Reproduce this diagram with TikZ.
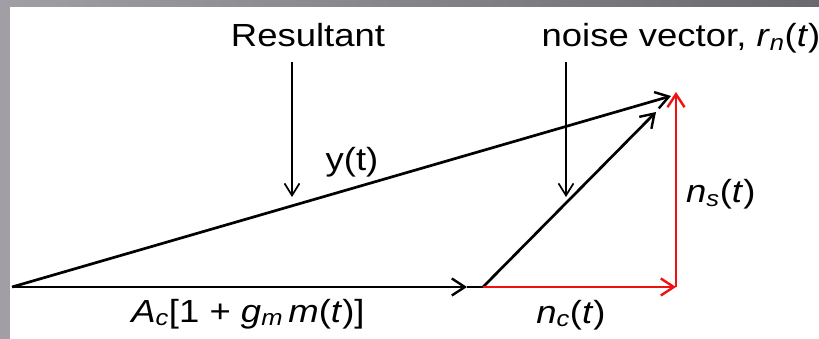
\documentclass[tikz,border=0pt]{standalone}
\usepackage{fontspec}
\setmainfont{Liberation Sans}[FakeStretch=1.14]
\usetikzlibrary{arrows.meta}
\definecolor{frameL}{HTML}{A19FA5}
\definecolor{frameR}{HTML}{6B696F}
\definecolor{vred}{HTML}{F01010}
\tikzset{
  vec/.style={line width=2.7pt, -{Straight Barb[length=13pt,width=17pt,line width=2.4pt]}},
  seg/.style={line width=2.7pt},
  ptr/.style={line width=1.7pt, -{Straight Barb[length=12pt,width=15pt,line width=1.7pt]}},
  lbl/.style={inner sep=0pt, anchor=base, font=\fontsize{32}{38}\selectfont},
}
\newcommand{\itx}[1]{\textit{#1}}
\newcommand{\subx}[1]{\textsubscript{\textit{#1}}}
\begin{document}
\begin{tikzpicture}[x=1pt,y=-1pt]
\useasboundingbox (0,0) rectangle (819,339);
\shade[left color=frameL, right color=frameR] (0,0) rectangle (819,339);
\fill[white] (10,7) rectangle (819,339);
% points
\coordinate (O) at (12,287);
\coordinate (Ahead) at (467,287);
\coordinate (P) at (483,287);
\coordinate (Q) at (676,287);
\coordinate (R) at (676,92);
\coordinate (Dtip) at (656,112);
\coordinate (Ytip) at (671,96);
% labels
\node[lbl] (res) at (308,47) {Resultant};
\node[lbl] (noise) at (681,47) {noise vector, \itx{r}\subx{n}(\itx{t})};
\node[lbl] (yt) at (352,171) {y(t)};
\node[lbl, anchor=base west] (ns) at (686,203) {\itx{n}\subx{s}(\itx{t})};
\node[lbl] (ac) at (248,322) {\itx{A}\subx{c}[1 + \itx{g}\subx{m}\,\itx{m}(\itx{t})]};
\node[lbl] (nc) at (571,323) {\itx{n}\subx{c}(\itx{t})};
% pointer coordinates
\coordinate (rp0) at (292,62);
\coordinate (rp1) at (292,197);
\coordinate (np0) at (566,62);
\coordinate (np1) at (566,197);
% vectors
\draw[vec] (O) -- (Ahead);
\draw[seg] (Ahead) -- (P);
\draw[vec] (O) -- (Ytip);
\draw[vec] (P) -- (Dtip);
\draw[vec, vred] (P) -- (Q);
\draw[vec, vred] (Q) -- (R);
% pointers
\draw[ptr] (rp0) -- (rp1);
\draw[ptr] (np0) -- (np1);
\end{tikzpicture}
\end{document}
